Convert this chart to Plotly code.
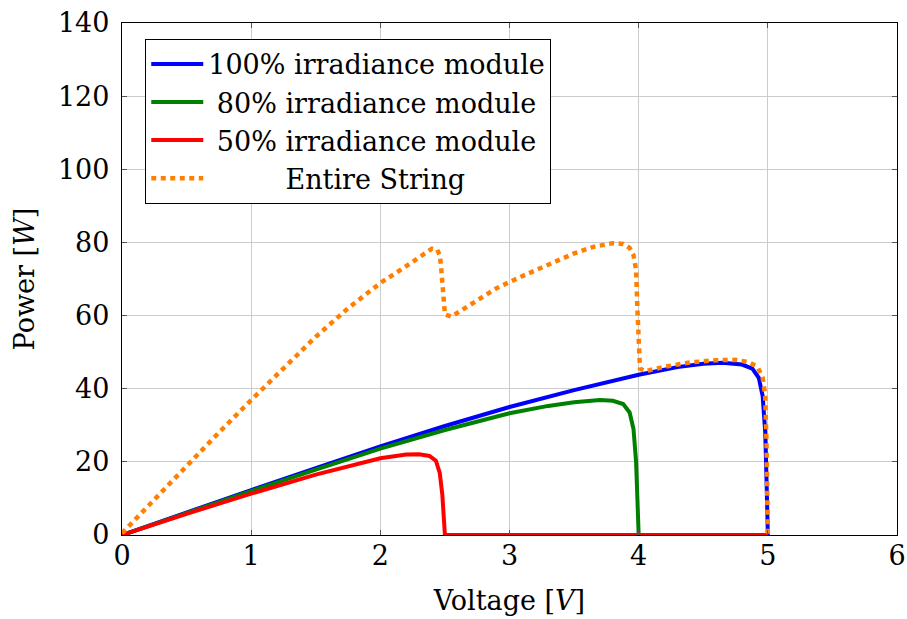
import plotly.graph_objects as go

# ---- data ----
v_100 = [0, 0.5, 1.0, 1.5, 2.0, 2.5, 3.0, 3.5, 4.0, 4.3, 4.5, 4.65, 4.8, 4.88, 4.93, 4.96, 4.98, 4.99, 5.0]
p_100 = [0, 6.2, 12.3, 18.3, 24.2, 29.8, 35.0, 39.6, 43.8, 45.9, 46.8, 47.1, 46.6, 45.5, 43.0, 38.0, 28.0, 15.0, 0]

v_80 = [0, 0.5, 1.0, 1.5, 2.0, 2.5, 3.0, 3.3, 3.5, 3.7, 3.8, 3.88, 3.93, 3.96, 3.98, 3.99, 4.0, 5.0]
p_80 = [0, 6.1, 12.0, 17.9, 23.6, 28.7, 33.3, 35.3, 36.3, 36.9, 36.7, 35.8, 33.5, 29.0, 20.0, 10.0, 0, 0]

v_50 = [0, 0.5, 1.0, 1.5, 2.0, 2.2, 2.3, 2.38, 2.43, 2.46, 2.48, 2.49, 2.5, 5.0]
p_50 = [0, 5.8, 11.3, 16.5, 21.0, 22.0, 22.1, 21.6, 20.3, 17.0, 11.0, 5.0, 0, 0]

v_str = [0, 0.25, 0.5, 0.75, 1.0, 1.25, 1.5, 1.75, 2.0, 2.2, 2.35, 2.4, 2.44, 2.46, 2.47,
         2.48, 2.49, 2.5, 2.55, 2.7, 2.9, 3.1, 3.3, 3.5, 3.65, 3.8, 3.88, 3.93, 3.96, 3.98,
         3.99, 4.0, 4.01, 4.05, 4.2, 4.4, 4.6, 4.75, 4.85, 4.92, 4.96, 4.98, 4.99, 5.0]
p_str = [0.5, 9.8, 19.0, 28.0, 36.9, 45.5, 54.2, 62.0, 68.9, 73.5, 77.2, 78.3, 78.0, 76.5, 73.5,
         68.0, 63.0, 60.3, 59.7, 63.0, 67.5, 70.8, 74.0, 77.0, 78.8, 79.8, 79.6, 78.5, 76.5, 72.5,
         62.0, 50.0, 45.5, 44.8, 46.0, 47.2, 47.8, 47.9, 47.3, 46.0, 43.0, 38.0, 25.0, 0]

names = ["100% irradiance module",
         "\u00a080% irradiance module",
         "\u00a050% irradiance module",
         "\u00a0" * 9 + "Entire String"]

x_ticks = [0, 1, 2, 3, 4, 5, 6]
y_ticks = [0, 20, 40, 60, 80, 100, 120, 140]

FONT = "DejaVu Serif"
FS = 27

fig = go.Figure()
fig.add_trace(go.Scatter(x=v_100, y=p_100, mode="lines", name=names[0],
                         line=dict(color="#0000ff", width=4)))
fig.add_trace(go.Scatter(x=v_80, y=p_80, mode="lines", name=names[1],
                         line=dict(color="#008000", width=4)))
fig.add_trace(go.Scatter(x=v_50, y=p_50, mode="lines", name=names[2],
                         line=dict(color="#ff0000", width=4)))
fig.add_trace(go.Scatter(x=v_str, y=p_str, mode="lines", name=names[3],
                         line=dict(color="#ff8000", width=4.5, dash="5px,4.5px")))

axis_common = dict(
    showline=True, linecolor="black", linewidth=1.3, mirror="ticks",
    showgrid=True, gridcolor="#cccccc", gridwidth=1,
    ticks="inside", ticklen=5, tickcolor="#555555", tickwidth=1,
    zeroline=False, automargin=False,
    tickfont=dict(family=FONT, size=FS, color="black"),
)

fig.update_xaxes(range=[0, 6], tickvals=x_ticks, ticktext=[str(t) for t in x_ticks],
                 title=dict(text="Voltage [<i>V</i>]", font=dict(family=FONT, size=FS, color="black"),
                            standoff=21),
                 ticklabelstandoff=-4, **axis_common)
fig.update_yaxes(range=[0, 140], tickvals=y_ticks, ticktext=[str(t) for t in y_ticks],
                 title=dict(text="Power [<i>W</i>]", font=dict(family=FONT, size=FS, color="black"),
                            standoff=15),
                 ticklabelstandoff=6, **axis_common)

fig.update_layout(
    width=907, height=619,
    margin=dict(l=122, r=10, t=23, b=84, pad=0, autoexpand=False),
    paper_bgcolor="white", plot_bgcolor="white",
    font=dict(family=FONT, size=FS, color="black"),
    showlegend=True,
    legend=dict(x=0.030, y=0.969, xanchor="left", yanchor="top",
                bgcolor="white", bordercolor="black", borderwidth=1,
                font=dict(family=FONT, size=FS, color="black"),
                tracegroupgap=0, itemwidth=52),
)

fig.write_html("out.html")
